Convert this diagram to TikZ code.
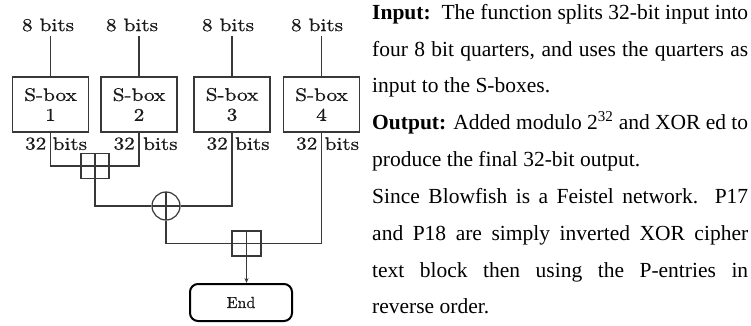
\documentclass[tikz,border=0pt]{standalone}
\usepackage{fontspec}
\usepackage{graphicx}
\newfontfamily\tnr{Liberation Serif}
\newfontfamily\lmb[FakeBold=0.8]{lmroman10-regular.otf}
\usetikzlibrary{arrows.meta,calc}
\newcommand\wtxt[1]{\scalebox{1.18}[1]{#1}}
\definecolor{ln}{HTML}{383838}
\definecolor{tx}{HTML}{1A1A1A}
\begin{document}
\begin{tikzpicture}[x=1pt,y=-1pt,
  lab/.style={font=\lmb\fontsize{18}{21}\selectfont, text=tx, inner sep=0pt},
  sbox/.style={draw=ln, line width=1.4pt, minimum width=76pt, minimum height=55pt, align=center, font=\lmb\fontsize{18}{20}\selectfont, text=tx, inner sep=0pt},
  conn/.style={draw=ln, line width=1.2pt},
  addbox/.style={draw=ln, line width=1.2pt, minimum width=28pt, minimum height=25pt, inner sep=0pt,
    path picture={\draw[ln, line width=1.2pt] (path picture bounding box.north) -- (path picture bounding box.south) (path picture bounding box.west) -- (path picture bounding box.east);}},
  xorc/.style={circle, draw=ln, line width=1.2pt, minimum size=28pt, inner sep=0pt,
    path picture={\draw[ln, line width=1.2pt] (path picture bounding box.north) -- (path picture bounding box.south) (path picture bounding box.west) -- (path picture bounding box.east);}},
  endbox/.style={draw=black, line width=2pt, rounded corners=8pt, minimum width=102pt, minimum height=37pt, inner sep=0pt, text=tx, font=\lmb\fontsize{16}{18}\selectfont},
  para/.style={font=\tnr\fontsize{21.5}{24}\selectfont, text=black, inner sep=0pt, anchor=base west}
]
\useasboundingbox (0,0) rectangle (751,326);

% S-boxes
\node[sbox] (b1) at (50.5,104.5) {\wtxt{S-box}\\\wtxt{1}};
\node[sbox] (b2) at (139,104.5) {\wtxt{S-box}\\\wtxt{2}};
\node[sbox] (b3) at (232,104.5) {\wtxt{S-box}\\\wtxt{3}};
\node[sbox] (b4) at (321.5,104.5) {\wtxt{S-box}\\\wtxt{4}};

% input labels
\node[lab] (l1) at (48,25) {\wtxt{8 bits}};
\node[lab] (l2) at (132,25) {\wtxt{8 bits}};
\node[lab] (l3) at (228,25) {\wtxt{8 bits}};
\node[lab] (l4) at (317,25) {\wtxt{8 bits}};
\draw[conn] (b1.north) -- ++(0,-40);
\draw[conn] (b2.north) -- ++(0,-40);
\draw[conn] (b3.north) -- ++(0,-40);
\draw[conn] (b4.north) -- ++(0,-40);

% output labels
\node[lab, anchor=east] (o1a) at ($(b1.south)+(-4,11)$) {\wtxt{32}};
\node[lab, anchor=west] (o1b) at ($(b1.south)+(2,11)$) {\wtxt{bits}};
\node[lab, anchor=east] (o2a) at ($(b2.south)+(-4,11)$) {\wtxt{32}};
\node[lab, anchor=west] (o2b) at ($(b2.south)+(4,11)$) {\wtxt{bits}};
\node[lab, anchor=east] (o3a) at ($(b3.south)+(-4,11)$) {\wtxt{32}};
\node[lab, anchor=west] (o3b) at ($(b3.south)+(3,11)$) {\wtxt{bits}};
\node[lab, anchor=east] (o4a) at ($(b4.south)+(-4,11)$) {\wtxt{32}};
\node[lab, anchor=west] (o4b) at ($(b4.south)+(3,11)$) {\wtxt{bits}};

% combiners
\node[addbox] (a1) at (95,166) {};
\node[xorc] (x1) at (166,206) {};
\node[addbox, minimum width=29pt] (a2) at (246.5,243.5) {};
\node[endbox] (e) at (241,302.5) {End};

\draw[conn] (b1.south) |- (a1.west);
\draw[conn] (b2.south) |- (a1.east);
\draw[conn] (a1.south) |- (x1.west);
\draw[conn] (b3.south) |- (x1.east);
\draw[conn] (x1.south) |- (a2.west);
\draw[conn] (b4.south) |- (a2.east);
\draw[conn, -{Stealth[length=5pt,width=4pt]}] (a2.south) -- (a2.south |- e.north);

% text
\node[para] (t1) at (372,20) {\makebox[376pt][s]{\textbf{Input:}\ \ The function splits 32-bit input into}};
\node[para] (t2) at (372,57) {\makebox[376pt][s]{four 8 bit quarters, and uses the quarters as}};
\node[para] (t3) at (372,93) {input to the S-boxes.};
\node[para] (t4) at (372,129) {\makebox[376pt][s]{\textbf{Output:} Added modulo 2\textsuperscript{32} and XOR ed to}};
\node[para] (t5) at (372,166) {produce the final 32-bit output.};
\node[para] (t6) at (372,203) {\makebox[376pt][s]{Since Blowfish is a Feistel network. P17}};
\node[para] (t7) at (372,240) {\makebox[376pt][s]{and P18 are simply inverted XOR cipher}};
\node[para] (t8) at (372,277) {\makebox[376pt][s]{text block then using the P-entries in}};
\node[para] (t9) at (372,313) {reverse order.};
\end{tikzpicture}
\end{document}
